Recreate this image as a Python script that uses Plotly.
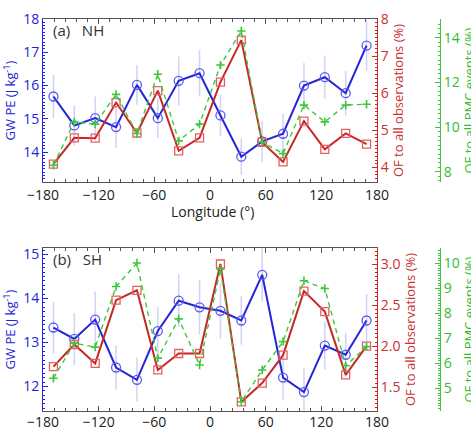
import plotly.graph_objects as go

# ---------------- data ----------------
lon = [-168.75, -146.25, -123.75, -101.25, -78.75, -56.25, -33.75, -11.25,
       11.25, 33.75, 56.25, 78.75, 101.25, 123.75, 146.25, 168.75]

# (a) NH
nh_pe = [15.67, 14.80, 15.02, 14.75, 16.02, 15.02, 16.14, 16.37,
         15.10, 13.86, 14.32, 14.55, 16.00, 16.25, 15.77, 17.20]
nh_pe_err = [0.65, 0.60, 0.65, 0.63, 0.60, 0.60, 0.73, 0.70,
             0.63, 0.55, 0.62, 0.60, 0.68, 0.65, 0.67, 0.75]
nh_of_obs = [4.09, 4.80, 4.79, 5.75, 4.93, 6.07, 4.45, 4.80,
             6.30, 7.43, 4.68, 4.15, 5.25, 4.49, 4.92, 4.63]
nh_of_pmc = [8.30, 10.24, 10.14, 11.47, 9.72, 12.37, 9.39, 10.14,
             12.78, 14.30, 9.34, 8.82, 10.99, 10.24, 10.99, 11.03]

# (b) SH
sh_pe = [13.34, 13.08, 13.52, 12.43, 12.15, 13.26, 13.95, 13.80,
         13.72, 13.50, 14.54, 12.20, 11.87, 12.93, 12.72, 13.50]
sh_pe_err = [0.59, 0.59, 0.64, 0.50, 0.50, 0.54, 0.60, 0.62,
             0.63, 0.55, 0.60, 0.52, 0.55, 0.55, 0.50, 0.60]
sh_of_obs = [1.75, 2.02, 1.79, 2.56, 2.68, 1.71, 1.91, 1.91,
             3.00, 1.32, 1.55, 1.89, 2.67, 2.42, 1.65, 2.00]
sh_of_pmc = [5.40, 6.80, 6.64, 9.06, 10.00, 6.20, 7.77, 5.93,
             9.75, 4.46, 5.73, 6.86, 9.29, 8.98, 5.90, 6.66]

x_ticks = [-180, -120, -60, 0, 60, 120, 180]

# ---------------- style ----------------
FONT = "Open Sans"
BLUE = "#2424d8"
BLUE_MK = "#5a5aee"
BLUE_ERR = "rgba(140,140,240,0.40)"
RED = "#c62828"
RED_MK = "#e26262"
RED_TXT = "#c93030"
GREEN = "#3cc83c"
GREEN_TXT = "#33bb33"
AX = "#555555"

fig = go.Figure()


def add_panel(xa, ya_pe, ya_obs, ya_pmc, pe, pe_err, obs, pmc):
    fig.add_trace(go.Scatter(
        x=lon, y=pe, xaxis=xa, yaxis=ya_pe, mode="lines+markers",
        line=dict(color=BLUE, width=2),
        marker=dict(symbol="circle-open", size=9, color=BLUE_MK, line=dict(width=1.3)),
        error_y=dict(type="data", array=pe_err, color=BLUE_ERR, thickness=1.5, width=0),
        showlegend=False))
    fig.add_trace(go.Scatter(
        x=lon, y=pmc, xaxis=xa, yaxis=ya_pmc, mode="lines+markers",
        line=dict(color=GREEN, width=1.4, dash="5px,4px"),
        marker=dict(symbol="cross-thin-open", size=6, color=GREEN, line=dict(width=1.6)),
        showlegend=False))
    fig.add_trace(go.Scatter(
        x=lon, y=obs, xaxis=xa, yaxis=ya_obs, mode="lines+markers",
        line=dict(color=RED, width=2),
        marker=dict(symbol="square-open", size=8, color=RED_MK, line=dict(width=1.3)),
        showlegend=False))


add_panel("x", "y", "y2", "y3", nh_pe, nh_pe_err, nh_of_obs, nh_of_pmc)
add_panel("x2", "y4", "y5", "y6", sh_pe, sh_pe_err, sh_of_obs, sh_of_pmc)

W, H = 471, 427
ML, MR, MT, MB = 43, 31, 19, 16
PW = W - ML - MR
XDOM = [0, 334 / PW]
PH = H - MT - MB
TOP_DOM = [(411 - 182) / PH, 1.0]
BOT_DOM = [0.0, (411 - 248) / PH]


def xaxis(anchor, lab_off=0):
    return dict(domain=XDOM, anchor=anchor, range=[-180, 180], tickvals=x_ticks,
                ticks="inside", ticklen=5, tickcolor=AX, showline=True, linecolor=AX,
                linewidth=1, mirror="ticks", showgrid=False, zeroline=False,
                tickfont=dict(family=FONT, size=14, color="#222222"),
                ticklabelstandoff=lab_off,
                minor=dict(dtick=12, ticks="inside", ticklen=3, tickcolor=AX, showgrid=False),
                automargin=False)


def yaxis(dom=None, rng=None, dtick=1, minor=0.1, color=BLUE, txt=BLUE, title="",
          side="left", anchor="x", overlaying=None, position=None, fmt=None,
          standoff=6):
    d = dict(range=rng, dtick=dtick, side=side, anchor=anchor,
             ticks="inside", ticklen=5, tickcolor=color, showline=True,
             linecolor=color, linewidth=1, showgrid=False, zeroline=False,
             tickfont=dict(family=FONT, size=14, color=txt),
             minor=dict(dtick=minor, ticks="inside", ticklen=2, tickcolor=color,
                        showgrid=False),
             title=dict(text=title, font=dict(family=FONT, size=13, color=txt),
                        standoff=standoff),
             automargin=False)
    if dom is not None:
        d["domain"] = dom
    if overlaying:
        d["overlaying"] = overlaying
    if position is not None:
        d["position"] = position
    if fmt:
        d["tickformat"] = fmt
    return d


def green_title(dom):
    return dict(text="OF to all PMC events (%)", xref="paper", yref="paper",
                x=(468 - ML) / PW, y=(dom[0] + dom[1]) / 2, textangle=-90,
                xanchor="center", yanchor="middle", showarrow=False,
                font=dict(family=FONT, size=13, color=GREEN_TXT))


fig.update_layout(
    width=W, height=H,
    margin=dict(l=ML, r=MR, t=MT, b=MB, pad=0),
    paper_bgcolor="white", plot_bgcolor="white",
    template="none",
    xaxis=xaxis("y"),
    xaxis2=xaxis("y4", -2),
    yaxis=yaxis(TOP_DOM, [13.1, 18], 1, 0.1, BLUE, BLUE, "GW PE (J kg<sup>-1</sup>)",
                anchor="x"),
    yaxis2=yaxis(None, [3.61, 8], 1, 0.1, RED, RED_TXT, "OF to all observations (%)",
                 side="right", anchor="x", overlaying="y"),
    yaxis3=yaxis(None, [7.55, 14.84], 2, 0.2, GREEN, GREEN_TXT, "",
                 side="right", anchor="free", overlaying="y", position=1.0),
    yaxis4=yaxis(BOT_DOM, [11.44, 15.15], 1, 0.1, BLUE, BLUE, "GW PE (J kg<sup>-1</sup>)",
                 anchor="x2"),
    yaxis5=yaxis(None, [1.21, 3.195], 0.5, 0.05, RED, RED_TXT, "OF to all observations (%)",
                 side="right", anchor="x2", overlaying="y4", fmt=".1f"),
    yaxis6=yaxis(None, [4.09, 10.6], 1, 0.1, GREEN, GREEN_TXT, "",
                 side="right", anchor="free", overlaying="y4", position=1.0),
    annotations=[
        dict(text="(a)&nbsp;&nbsp;&nbsp;NH", xref="x domain", yref="y domain",
             x=0.025, y=0.93, xanchor="left", yanchor="middle", showarrow=False,
             font=dict(family=FONT, size=15, color="#333333")),
        dict(text="(b)&nbsp;&nbsp;&nbsp;SH", xref="x2 domain", yref="y4 domain",
             x=0.025, y=0.93, xanchor="left", yanchor="middle", showarrow=False,
             font=dict(family=FONT, size=15, color="#333333")),
        dict(text="Longitude (°)", xref="paper", yref="paper",
             x=(212 - ML) / PW, y=(411 - 211) / PH, xanchor="center", yanchor="middle",
             showarrow=False, font=dict(family=FONT, size=14, color="#222222")),
        green_title(TOP_DOM),
        green_title(BOT_DOM),
    ],
)

fig.write_html("out.html")
